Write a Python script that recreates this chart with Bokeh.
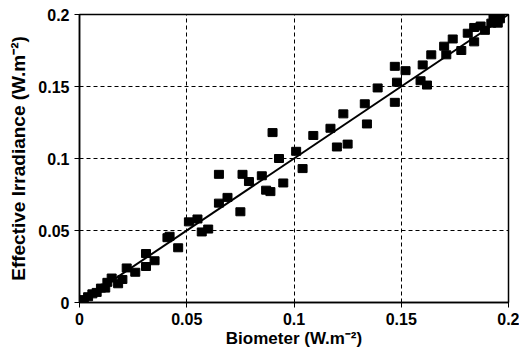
from bokeh.plotting import figure
from bokeh.models import FixedTicker, Range1d, ColumnDataSource
from bokeh.embed import file_html
from bokeh.resources import INLINE

biometer = [0.002, 0.004, 0.006, 0.008, 0.010, 0.012, 0.013, 0.015, 0.018, 0.020,
            0.022, 0.026, 0.031, 0.031, 0.035, 0.041, 0.042, 0.046, 0.051, 0.055,
            0.057, 0.060, 0.065, 0.065, 0.069, 0.075, 0.076, 0.079, 0.085, 0.087,
            0.089, 0.090, 0.093, 0.095, 0.101, 0.104, 0.109, 0.117, 0.120, 0.125,
            0.123, 0.133, 0.134, 0.139, 0.147, 0.148, 0.147, 0.152, 0.159, 0.162,
            0.160, 0.164, 0.170, 0.171, 0.174, 0.178, 0.181, 0.184, 0.184, 0.187,
            0.189, 0.192, 0.195, 0.193, 0.196]
effective = [0.002, 0.004, 0.006, 0.007, 0.010, 0.010, 0.014, 0.017, 0.013, 0.016,
             0.024, 0.021, 0.025, 0.034, 0.029, 0.045, 0.046, 0.038, 0.056, 0.058,
             0.049, 0.051, 0.069, 0.089, 0.073, 0.063, 0.089, 0.084, 0.088, 0.078,
             0.077, 0.118, 0.100, 0.083, 0.105, 0.093, 0.116, 0.121, 0.108, 0.110,
             0.131, 0.138, 0.124, 0.149, 0.139, 0.153, 0.164, 0.161, 0.154, 0.151,
             0.165, 0.172, 0.178, 0.172, 0.183, 0.175, 0.187, 0.181, 0.191, 0.192,
             0.189, 0.194, 0.194, 0.197, 0.197]

fit_x = [0.0, 0.2]
fit_y = [0.0, 0.2]

ticks = [0, 0.05, 0.1, 0.15, 0.2]
tick_labels = ["0", "0.05", "0.1", "0.15", "0.2"]

p = figure(width=519, height=357, output_backend="svg", toolbar_location=None,
           x_range=Range1d(0, 0.2), y_range=Range1d(0, 0.2),
           min_border_left=79, min_border_right=11, min_border_top=14, min_border_bottom=55)

p.background_fill_color = "white"
p.border_fill_color = "white"
p.outline_line_color = "black"
p.outline_line_width = 1.5

src = ColumnDataSource(dict(x=biometer, y=effective))
p.rect(x="x", y="y", width=9, height=8, width_units="screen", height_units="screen",
       source=src, fill_color="black", line_color="black")
p.line(fit_x, fit_y, line_color="black", line_width=2)

overrides = {t: l for t, l in zip(ticks, tick_labels)}
for ax in (p.xaxis[0], p.yaxis[0]):
    ax.ticker = FixedTicker(ticks=ticks)
    ax.major_label_overrides = overrides
    ax.major_label_text_font = "Liberation Sans"
    ax.major_label_text_font_style = "bold"
    ax.major_label_text_font_size = "16px"
    ax.major_label_text_color = "black"
    ax.axis_label_text_font = "Liberation Sans"
    ax.axis_label_text_font_style = "bold"
    ax.axis_label_text_color = "black"
    ax.axis_line_color = "black"
    ax.axis_line_width = 1.5
    ax.major_tick_out = 5
    ax.major_tick_in = 0
    ax.minor_tick_out = 0
    ax.minor_tick_in = 0
    ax.major_tick_line_color = "black"

p.xaxis.axis_label = "Biometer (W.m\u207b\u00b2)"
p.yaxis.axis_label = "Effective Irradiance (W.m\u207b\u00b2)"
p.xaxis.axis_label_text_font_size = "17px"
p.yaxis.axis_label_text_font_size = "19px"
p.xaxis.axis_label_standoff = 1
p.yaxis.axis_label_standoff = 6
p.xaxis.major_label_standoff = 5
p.yaxis.major_label_standoff = 5

for g in (p.xgrid[0], p.ygrid[0]):
    g.grid_line_color = "black"
    g.grid_line_dash = "4 3"
    g.grid_line_width = 1

open("out.html", "w").write(file_html(p, INLINE))
